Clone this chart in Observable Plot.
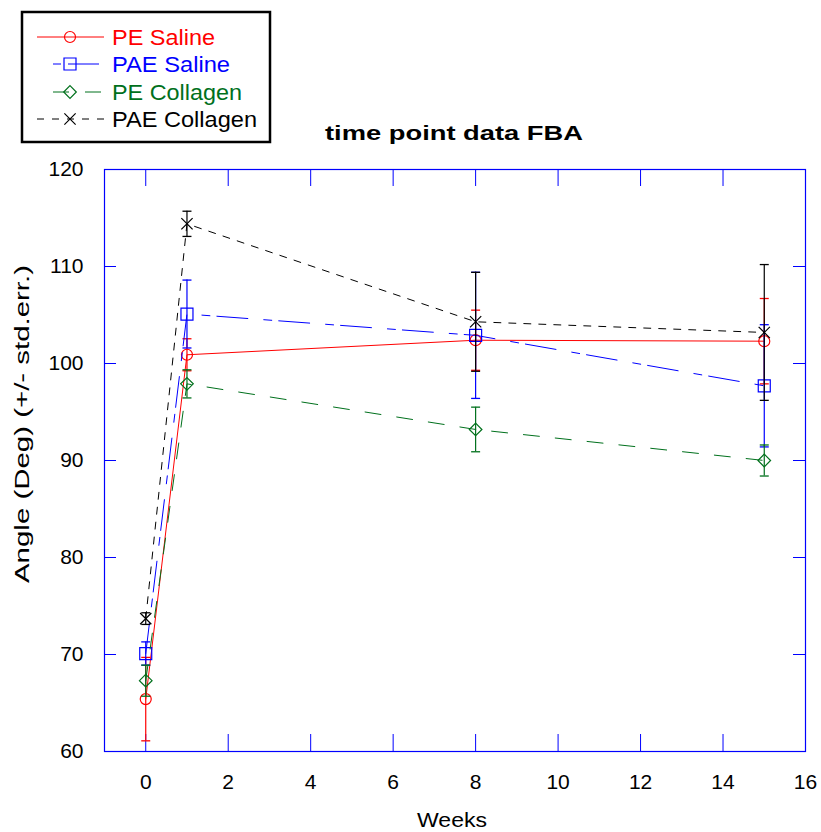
<!DOCTYPE html>
<html>
<head>
<meta charset="utf-8">
<script src="https://cdn.jsdelivr.net/npm/d3@7"></script>
<script src="https://cdn.jsdelivr.net/npm/@observablehq/plot@0.6"></script>
<style>
  html, body { margin: 0; padding: 0; background: white; }
  #wrap { position: relative; width: 821px; height: 832px; }
  #wrap svg { position: absolute; left: 0; top: 0; }
</style>
</head>
<body>
<div id="wrap"></div>
<script>
// ---- data ----
const weeks = [0, 1, 8, 15];
const xTicks = [0, 2, 4, 6, 8, 10, 12, 14, 16];
const yTicks = [60, 70, 80, 90, 100, 110, 120];

const peSaline      = [65.4, 100.9, 102.4, 102.3];
const peSalineErr   = [4.3, 1.65, 3.1, 4.4];
const paeSaline     = [70.1, 105.1, 102.9, 97.7];
const paeSalineErr  = [1.2, 3.5, 6.5, 6.3];
const peCollagen    = [67.3, 97.9, 93.2, 90.0];
const peCollagenErr = [1.6, 1.45, 2.3, 1.6];
const paeCollagen   = [73.7, 114.4, 104.3, 103.2];
const paeCollagenErr= [0.6, 1.3, 5.1, 7.0];

const seriesNames = ["PE Saline", "PAE Saline", "PE Collagen", "PAE Collagen"];
const titleText = "time point data FBA";
const xLabel = "Weeks";
const yLabel = "Angle (Deg) (+/- std.err.)";

// ---- styles ----
const GREEN = "#00701c";
const styles = [
  {color: "red",  symbol: "circle",  r: 5.5, dash: null,          off: 0},
  {color: "blue", symbol: "square",  r: 3.4, dash: "31,16,8,7",   off: 31},
  {color: GREEN,  symbol: "diamond2", r: 5.5, dash: "16,16",      off: 16},
  {color: "black",symbol: "times",   r: 5.5, dash: "7,8",         off: 0}
];
const allVals = [peSaline, paeSaline, peCollagen, paeCollagen];
const allErrs = [peSalineErr, paeSalineErr, peCollagenErr, paeCollagenErr];

const capSymbol = {
  draw(ctx, size) {
    const r = Math.sqrt(size / Math.PI);
    ctx.moveTo(-r, 0);
    ctx.lineTo(r, 0);
  }
};
const squareSymbol = {
  draw(ctx, size) {
    const r = Math.sqrt(size / Math.PI);
    ctx.moveTo(-r, -r); ctx.lineTo(r, -r); ctx.lineTo(r, r); ctx.lineTo(-r, r); ctx.closePath();
  }
};
const diamondSymbol = {
  draw(ctx, size) {
    const r = Math.sqrt(size / Math.PI);
    ctx.moveTo(0, -r); ctx.lineTo(r, 0); ctx.lineTo(0, r); ctx.lineTo(-r, 0); ctx.closePath();
  }
};
const timesSymbol = {
  draw(ctx, size) {
    const r = Math.sqrt(size / Math.PI) * 0.75;
    ctx.moveTo(-r, -r); ctx.lineTo(r, r); ctx.moveTo(r, -r); ctx.lineTo(-r, r);
  }
};
const circleSymbol = {
  draw(ctx, size) {
    const r = Math.sqrt(size / Math.PI);
    ctx.moveTo(r, 0); ctx.arc(0, 0, r, 0, 2 * Math.PI);
  }
};
const symbolDefs = [
  {sym: circleSymbol, r: 5.5},
  {sym: squareSymbol, r: 6},
  {sym: diamondSymbol, r: 6.3},
  {sym: timesSymbol, r: 7.5}
];

const W = 821, H = 832;
const mL = 104, mR = 16, mT = 169, mB = 81;
const pw = W - mL - mR, ph = H - mT - mB;

const seriesMarks = [];
allVals.forEach((vals, s) => {
  const rows = weeks.map((w, i) => ({week: w, value: vals[i], lo: vals[i] - allErrs[s][i], hi: vals[i] + allErrs[s][i]}));
  const st = styles[s];
  seriesMarks.push(
    Plot.line(rows, {x: "week", y: "value", stroke: st.color, strokeWidth: 1, strokeDasharray: st.dash}),
    Plot.ruleX(rows, {x: "week", y1: "lo", y2: "hi", stroke: st.color, strokeWidth: 1.2}),
    Plot.dot(rows, {x: "week", y: "lo", symbol: capSymbol, r: 4.5, stroke: st.color, strokeWidth: 1.3}),
    Plot.dot(rows, {x: "week", y: "hi", symbol: capSymbol, r: 4.5, stroke: st.color, strokeWidth: 1.3}),
    Plot.dot(rows, {x: "week", y: "value", symbol: symbolDefs[s].sym, r: symbolDefs[s].r, stroke: st.color, fill: "none", strokeWidth: 1.2})
  );
});

const chart = Plot.plot({
  width: W, height: H,
  marginLeft: mL, marginRight: mR, marginTop: mT, marginBottom: mB,
  style: {fontFamily: "Arial, 'Liberation Sans', sans-serif", fontSize: "21px", color: "black", background: "transparent"},
  x: {domain: [-1, 16], ticks: xTicks, tickSize: 0, tickPadding: 23, label: null},
  y: {domain: [60, 120], ticks: yTicks, tickSize: 0, tickPadding: 21, label: null},
  marks: [
    Plot.frame({stroke: "blue", strokeWidth: 1.2}),
    Plot.tickX(xTicks, {x: d => d, stroke: "blue", insetTop: ph - 17}),
    Plot.tickX(xTicks, {x: d => d, stroke: "blue", insetBottom: ph - 17}),
    Plot.tickY(yTicks, {y: d => d, stroke: "blue", insetRight: pw - 12}),
    Plot.tickY(yTicks, {y: d => d, stroke: "blue", insetLeft: pw - 12}),
    ...seriesMarks
  ]
});
document.getElementById("wrap").appendChild(chart);

// ---- overlay: title, axis labels, legend ----
const ov = d3.create("svg").attr("width", W).attr("height", H)
  .style("font-family", "Arial, 'Liberation Sans', sans-serif")
  .style("pointer-events", "none");

ov.append("text").attr("x", 454).attr("y", 140).attr("text-anchor", "middle")
  .attr("font-size", 21).attr("font-weight", "bold")
  .attr("textLength", 258).attr("lengthAdjust", "spacingAndGlyphs").text(titleText);

ov.append("text").attr("x", 452).attr("y", 827).attr("text-anchor", "middle")
  .attr("font-size", 21).attr("textLength", 70).attr("lengthAdjust", "spacingAndGlyphs").text(xLabel);

ov.append("text").attr("transform", "translate(29,424) rotate(-90)").attr("text-anchor", "middle")
  .attr("font-size", 21).attr("textLength", 318).attr("lengthAdjust", "spacingAndGlyphs").text(yLabel);

// legend
ov.append("rect").attr("x", 22).attr("y", 12).attr("width", 248).attr("height", 130)
  .attr("fill", "white").attr("stroke", "black").attr("stroke-width", 2.5);
const rowY = [37, 64, 92, 119];
const textLen = [103, 118, 130, 145];
seriesNames.forEach((name, s) => {
  const st = styles[s];
  const y = rowY[s];
  ov.append("line").attr("x1", 37).attr("x2", 104).attr("y1", y).attr("y2", y)
    .attr("stroke", st.color).attr("stroke-width", 1)
    .attr("stroke-dasharray", st.dash).attr("stroke-dashoffset", st.off);
  const p = d3.path();
  symbolDefs[s].sym.draw(p, Math.PI * symbolDefs[s].r * symbolDefs[s].r);
  ov.append("path").attr("transform", `translate(70,${y})`).attr("d", p.toString())
    .attr("fill", "none").attr("stroke", st.color).attr("stroke-width", 1.2);
  ov.append("text").attr("x", 112).attr("y", y + 8).attr("font-size", 22)
    .attr("fill", st.color).attr("textLength", textLen[s]).attr("lengthAdjust", "spacingAndGlyphs").text(name);
});
document.getElementById("wrap").appendChild(ov.node());
</script>
</body>
</html>
